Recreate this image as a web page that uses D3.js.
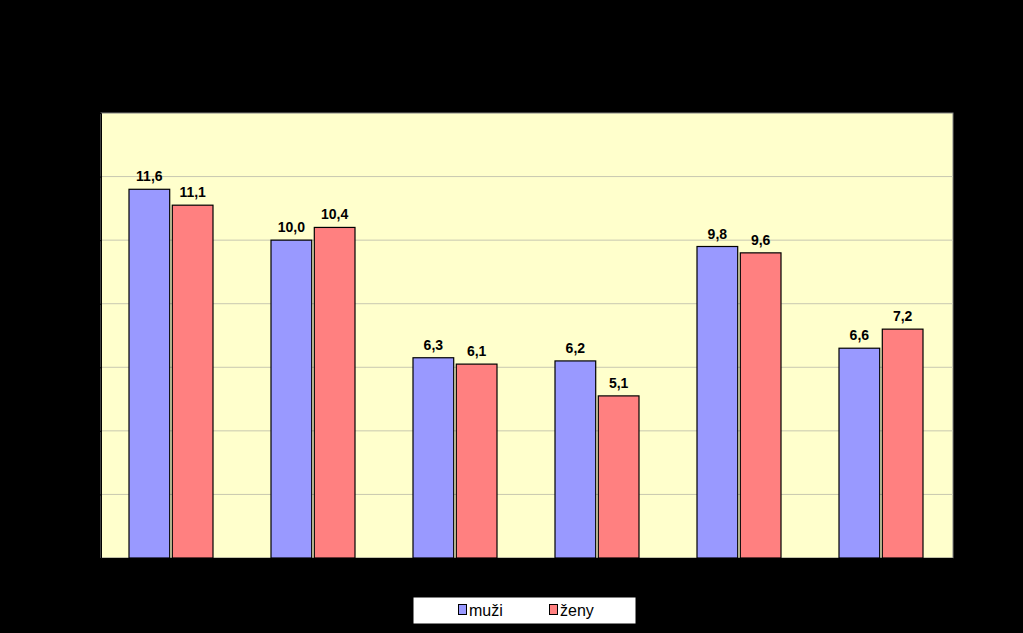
<!DOCTYPE html>
<html><head><meta charset="utf-8">
<script src="https://cdn.jsdelivr.net/npm/d3@7"></script>
<style>html,body{margin:0;padding:0;background:#000;}svg{display:block;}</style>
</head><body>
<svg id="c" width="1023" height="633"></svg>
<script>
const categories = ["1", "2", "3", "4", "5", "6"];
const seriesNames = ["muži", "ženy"];
const muzi = [11.6, 10.0, 6.3, 6.2, 9.8, 6.6];
const zeny = [11.1, 10.4, 6.1, 5.1, 9.6, 7.2];
const yTicks = [0, 2, 4, 6, 8, 10, 12, 14];
const colors = ["#9999FF", "#FF8080"];

const svg = d3.select("#c");
const W = 1023, H = 633;
svg.append("rect").attr("width", W).attr("height", H).attr("fill", "#000");
const m = {l: 101, r: 953, t: 113, b: 558};
const x = d3.scaleBand().domain(categories).range([m.l, m.r]);
const y = d3.scaleLinear().domain([0, 14]).range([m.b, m.t]);
const x1 = d3.scaleBand().domain(seriesNames).range([0, 84]).paddingInner(0.06);

svg.append("rect").attr("x", m.l).attr("y", m.t).attr("width", m.r - m.l).attr("height", m.b - m.t)
  .attr("fill", "#FFFFCC").attr("stroke", "#808080").attr("stroke-width", 1);

svg.append("g").selectAll("line").data(yTicks.slice(1, -1)).join("line")
  .attr("x1", m.l).attr("x2", m.r).attr("y1", d => y(d)).attr("y2", d => y(d))
  .attr("stroke", "#C8C8B0").attr("stroke-width", 1);

// axes (black on black, as in reference)
const ya = svg.append("g").attr("transform", `translate(${m.l},0)`)
  .call(d3.axisLeft(y).tickValues(yTicks).tickSize(4));
ya.selectAll("text").attr("fill", "#000").style("font", "12px Arial");
ya.selectAll("line,path").attr("stroke", "#000");
const xa = svg.append("g").attr("transform", `translate(0,${m.b})`)
  .call(d3.axisBottom(x).tickSize(0).tickPadding(10));
xa.selectAll("text").attr("fill", "#000").style("font", "12px Arial");
xa.selectAll("path").attr("stroke", "#000");

const data = categories.map((c, i) => ({c, vals: [muzi[i], zeny[i]]}));
const g = svg.append("g");
data.forEach(d => {
  const cx = x(d.c) + x.bandwidth() / 2 - 43;
  d.vals.forEach((v, j) => {
    const bx = cx + x1(seriesNames[j]);
    g.append("rect").attr("x", bx).attr("y", y(v)).attr("width", x1.bandwidth())
      .attr("height", y(0) - y(v)).attr("fill", colors[j]).attr("stroke", "#000").attr("stroke-width", 1.2);
    g.append("text").attr("x", bx + x1.bandwidth() / 2).attr("y", y(v) - 8)
      .attr("text-anchor", "middle").style("font", "bold 14px Arial").attr("fill", "#000")
      .text(v.toFixed(1).replace(".", ","));
  });
});

// legend
const lg = svg.append("g");
lg.append("rect").attr("x", 413).attr("y", 597).attr("width", 223).attr("height", 27)
  .attr("fill", "#fff").attr("stroke", "#000");
const lx = [459, 550];
seriesNames.forEach((s, j) => {
  lg.append("rect").attr("x", lx[j] - 0.5).attr("y", 604.5).attr("width", 8).attr("height", 10)
    .attr("fill", colors[j]).attr("stroke", "#000");
  lg.append("text").attr("x", lx[j] + 10).attr("y", 616).style("font", "16px Arial").attr("fill", "#000").text(s);
});
</script>
</body></html>
